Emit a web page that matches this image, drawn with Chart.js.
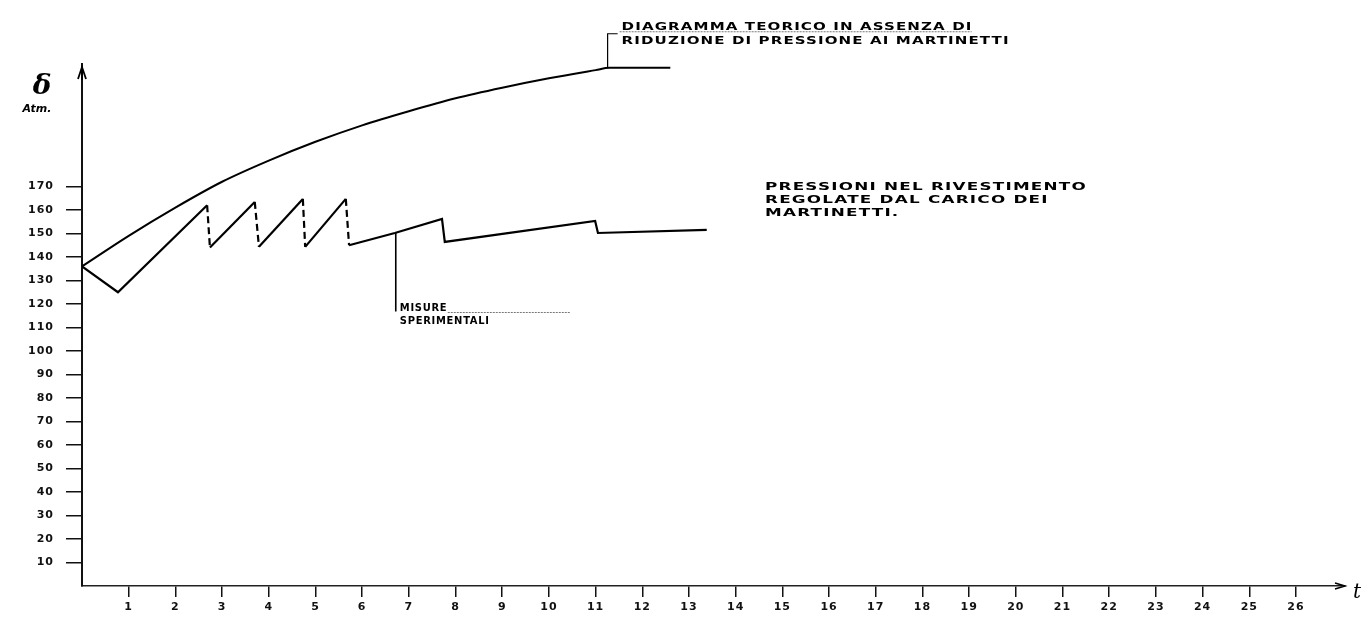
<!DOCTYPE html>
<html>
<head>
<meta charset="utf-8">
<script src="https://cdn.jsdelivr.net/npm/chart.js@4/dist/chart.umd.min.js"></script>
<style>
  html, body { margin: 0; padding: 0; background: #fff; }
  #wrap { width: 1372px; height: 632px; position: relative; }
</style>
</head>
<body>
<div id="wrap"><canvas id="c" width="1372" height="632"></canvas></div>
<script>
// Time axis (t) tick labels
const timeTicks = [1, 2, 3, 4, 5, 6, 7, 8, 9, 10, 11, 12, 13, 14, 15, 16, 17, 18, 19, 20, 21, 22, 23, 24, 25, 26];
// Pressure axis (Atm.) tick labels
const pressureTicks = [10, 20, 30, 40, 50, 60, 70, 80, 90, 100, 110, 120, 130, 140, 150, 160, 170];

// Theoretical diagram, no pressure reduction at the jacks
const theoryT = [0, 1, 2, 3, 4, 5, 6, 7, 8, 9, 10, 11, 11.3, 12.6];
const theoryP = [136, 149, 161, 172, 181, 189, 196, 202, 207.5, 212, 216, 219.5, 220.5, 220.5];

// Lining pressures regulated by the jack load
const liningT = [0, 0.77, 2.68, 2.74, 3.70, 3.79, 4.73, 4.78, 5.65, 5.72, 6.7, 7.71, 7.77, 10.99, 11.05, 13.38];
const liningP = [136, 125, 162, 144, 163.4, 144.3, 164.7, 144.3, 164.7, 145, 150.2, 156.2, 146.4, 155.3, 150.2, 151.5];

// Experimental measurement marker
const measureT = [6.72, 6.72];
const measureP = [150.2, 116.8];

const pts = (xs, ys) => xs.map((v, i) => ({ x: v, y: ys[i] }));

const LABEL_FONT = '"DejaVu Sans", sans-serif';

// Wide stencil-style lettering: the whole block is stretched so its longest line gets the set width
function drawNote(ctx, lines, x, y, lh, width) {
  ctx.font = 'bold 11px ' + LABEL_FONT;
  ctx.letterSpacing = '0.8px';
  ctx.textAlign = 'left';
  ctx.textBaseline = 'alphabetic';
  const longest = Math.max(...lines.map(t => ctx.measureText(t).width));
  const sx = width / longest;
  lines.forEach((t, i) => {
    ctx.save();
    ctx.translate(x, y + i * lh);
    ctx.scale(sx, 1);
    ctx.fillText(t, 0, 0);
    ctx.restore();
  });
  ctx.letterSpacing = '0px';
}

const decor = {
  id: 'decor',
  beforeDraw(chart) {
    // wide hand-lettered look for the axis numbers
    chart.ctx.letterSpacing = '1px';
  },
  afterDraw(chart) {
    const { ctx, chartArea: a, scales: { x, y } } = chart;
    ctx.save();
    ctx.letterSpacing = '0px';
    ctx.strokeStyle = '#000';
    ctx.fillStyle = '#000';
    ctx.lineWidth = 1.8;

    // arrow at the top of the pressure axis
    ctx.beginPath();
    ctx.moveTo(a.left, a.top + 2);
    ctx.lineTo(a.left, a.top + 16);
    ctx.stroke();
    ctx.beginPath();
    ctx.moveTo(a.left - 4, a.top + 15);
    ctx.lineTo(a.left, a.top + 3);
    ctx.lineTo(a.left + 4, a.top + 15);
    ctx.stroke();

    // arrow at the end of the time axis
    ctx.lineWidth = 1.5;
    ctx.beginPath();
    ctx.moveTo(a.right - 10, a.bottom - 3);
    ctx.lineTo(a.right, a.bottom);
    ctx.lineTo(a.right - 10, a.bottom + 3);
    ctx.stroke();

    // axis titles
    ctx.textAlign = 'center';
    ctx.textBaseline = 'middle';
    ctx.font = 'italic bold 28px "DejaVu Serif", serif';
    ctx.fillText('δ', 42, 87);
    ctx.font = 'italic bold 11px ' + LABEL_FONT;
    ctx.fillText('Atm.', 37, 109);
    ctx.font = 'italic 20px "DejaVu Serif", serif';
    ctx.fillText('t', a.right + 12, a.bottom + 7);

    // leader for the theoretical curve
    const tx = x.getPixelForValue(theoryT[12]);
    const ty = y.getPixelForValue(theoryP[12]);
    ctx.lineWidth = 1.2;
    ctx.beginPath();
    ctx.moveTo(tx - 2, ty);
    ctx.lineTo(tx - 2, ty - 34);
    ctx.lineTo(tx + 8, ty - 34);
    ctx.stroke();
    drawNote(ctx, ['DIAGRAMMA TEORICO IN ASSENZA DI', 'RIDUZIONE DI PRESSIONE AI MARTINETTI'],
      tx + 12, ty - 38, 14, 388);
    ctx.strokeStyle = '#777';
    ctx.lineWidth = 1;
    ctx.setLineDash([2, 1]);
    ctx.beginPath();
    ctx.moveTo(tx + 10, ty - 36);
    ctx.lineTo(tx + 362, ty - 36);
    ctx.stroke();
    ctx.setLineDash([]);

    // note for the lining pressures
    ctx.fillStyle = '#000';
    drawNote(ctx, ['PRESSIONI NEL RIVESTIMENTO', 'REGOLATE DAL CARICO DEI', 'MARTINETTI.'],
      765, 190, 13, 322);

    // note for the experimental measurements
    const mx = x.getPixelForValue(measureT[1]);
    const my = y.getPixelForValue(measureP[1]);
    drawNote(ctx, ['MISURE', 'SPERIMENTALI'], mx + 4, my, 13, 90);
    ctx.strokeStyle = '#777';
    ctx.lineWidth = 1;
    ctx.setLineDash([2, 1]);
    ctx.beginPath();
    ctx.moveTo(mx + 52, my + 1);
    ctx.lineTo(mx + 175, my + 1);
    ctx.stroke();
    ctx.restore();
  }
};

new Chart(document.getElementById('c'), {
  type: 'line',
  data: {
    datasets: [
      {
        data: pts(theoryT, theoryP),
        borderColor: '#000',
        borderWidth: 2,
        pointRadius: 0,
        cubicInterpolationMode: 'monotone',
        clip: false
      },
      {
        data: pts(liningT, liningP),
        borderColor: '#000',
        borderWidth: 2.2,
        pointRadius: 0,
        tension: 0,
        segment: {
          borderDash: c => (c.p0.parsed.y - c.p1.parsed.y > 15 ? [7, 4] : undefined)
        }
      },
      {
        data: pts(measureT, measureP),
        borderColor: '#000',
        borderWidth: 1.6,
        pointRadius: 0,
        tension: 0
      }
    ]
  },
  options: {
    responsive: false,
    animation: false,
    events: [],
    layout: { padding: { left: 0, right: 27, top: 64, bottom: 0 } },
    plugins: { legend: { display: false }, tooltip: { enabled: false } },
    scales: {
      x: {
        type: 'linear',
        min: 0,
        max: 27.05,
        afterBuildTicks: s => { s.ticks = timeTicks.map(v => ({ value: v })); },
        afterFit: s => { s.height = 46; },
        grid: { drawOnChartArea: false, drawTicks: true, tickLength: 11, color: '#111', lineWidth: 1.5 },
        border: { display: true, color: '#222', width: 1.6 },
        ticks: {
          color: '#111',
          autoSkip: false,
          maxRotation: 0,
          padding: 4,
          font: { family: LABEL_FONT, size: 11, weight: 'bold' }
        }
      },
      y: {
        type: 'linear',
        min: 0,
        max: 222.1,
        afterBuildTicks: s => { s.ticks = pressureTicks.map(v => ({ value: v })); },
        afterFit: s => { s.width = 82; },
        grid: { drawOnChartArea: false, drawTicks: true, tickLength: 16, color: '#111', lineWidth: 1.5 },
        border: { display: true, color: '#111', width: 2 },
        ticks: {
          color: '#111',
          autoSkip: false,
          padding: 12,
          font: { family: LABEL_FONT, size: 11, weight: 'bold' }
        }
      }
    }
  },
  plugins: [decor]
});
</script>
</body>
</html>
